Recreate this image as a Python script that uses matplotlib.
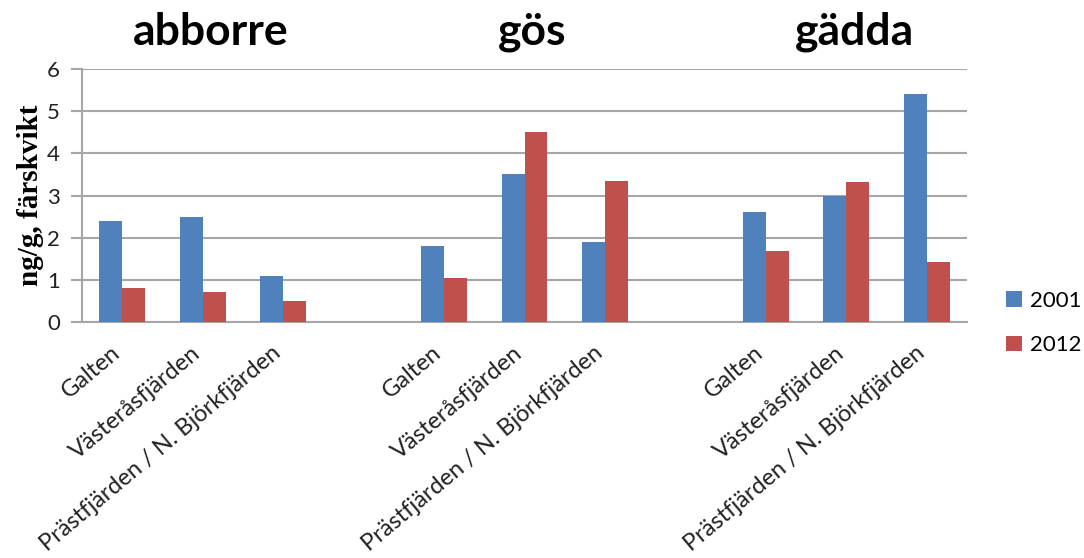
import matplotlib.pyplot as plt
import matplotlib.transforms as mtransforms
import numpy as np

fish = ["abborre", "gös", "gädda"]
sites = ["Galten", "Västeråsfjärden", "Prästfjärden / N. Björkfjärden"]
years = ["2001", "2012"]
v2001 = [2.4, 2.5, 1.1, 1.8, 3.5, 1.9, 2.6, 3.0, 5.4]
v2012 = [0.8, 0.7, 0.5, 1.05, 4.5, 3.35, 1.68, 3.32, 1.43]

blue = "#4F81BD"
red = "#C0504D"
grid = "#A6A6A6"

fig = plt.figure(figsize=(10.84, 5.58), dpi=100)
ax = fig.add_axes([82 / 1084, 1 - 322 / 558, (967 - 82) / 1084, (322 - 69) / 558])

# 3 sites per fish, one empty slot between fish groups
pos = np.array([g * 4 + s for g in range(len(fish)) for s in range(len(sites))])
w = 0.285
ax.bar(pos - w / 2, v2001, w, color=blue, label=years[0], zorder=3)
ax.bar(pos + w / 2, v2012, w, color=red, label=years[1], zorder=3)

ax.set_xlim(-0.5, 10.5)
ax.set_ylim(0, 6)
ax.set_yticks(range(7))
ax.yaxis.grid(True, color=grid, linewidth=1.5, zorder=0)
for side in ["top", "right"]:
    ax.spines[side].set_visible(False)
for side in ["left", "bottom"]:
    ax.spines[side].set_color(grid)
    ax.spines[side].set_linewidth(1.5)
ax.tick_params(axis="y", length=8, width=1.5, color=grid, pad=8,
               labelsize=16)
ax.tick_params(axis="x", length=0, pad=8)
for t in ax.get_yticklabels():
    t.set_fontfamily("Lato")
    t.set_color("#222222")

ax.set_xticks(pos)
ax.set_xticklabels(sites * len(fish), rotation=40, ha="right",
                   rotation_mode="anchor", fontsize=17, family="Lato",
                   color="#222222")
shift = mtransforms.ScaledTranslation(-0.12, -0.09, fig.dpi_scale_trans)
for t in ax.get_xticklabels():
    t.set_transform(t.get_transform() + shift)

ax.set_ylabel("ng/g, färskvikt", family="Liberation Serif", fontweight="bold",
              fontsize=21, labelpad=2)

trans = mtransforms.blended_transform_factory(ax.transData, fig.transFigure)
for g, name in enumerate(fish):
    ax.text(g * 4 + 1.1, 1 - 45 / 558, name, transform=trans, ha="center",
            va="baseline", fontsize=32, fontweight="bold", family="Lato")

fig.legend(loc="upper left", bbox_to_anchor=(1006 / 1084, 1 - 291 / 558),
           frameon=False, prop={"family": "Lato", "size": 16},
           handlelength=0.7, handleheight=0.7, handletextpad=0.4,
           labelspacing=1.1, borderaxespad=0, borderpad=0)

fig.savefig("out.png", dpi=100)
